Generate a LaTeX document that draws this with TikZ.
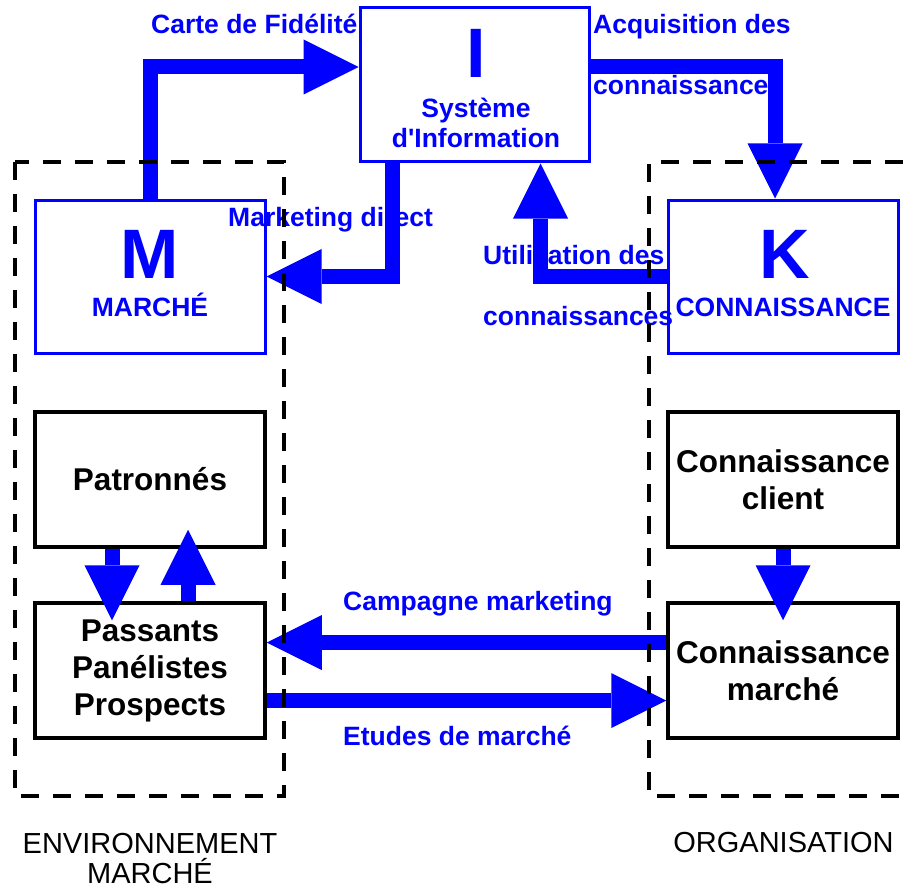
\documentclass[tikz,border=0pt]{standalone}
\usepackage{fontspec}
\setmainfont{Liberation Sans}
\usetikzlibrary{arrows.meta,calc}

\definecolor{flowblue}{RGB}{0,0,255}

\tikzset{
  bluebox/.style={draw=flowblue, line width=3pt, minimum width=230pt, minimum height=153pt, inner sep=0pt},
  blackbox/.style={draw=black, line width=3.5pt, minimum width=230pt, minimum height=135pt, inner sep=0pt, align=center, font=\fontsize{31.5}{37}\selectfont\bfseries},
  flow/.style={draw=flowblue, line width=15pt, -{Triangle[length=55pt,width=55pt,line width=0pt]}},
  flowlabel/.style={text=flowblue, inner sep=0pt, font=\fontsize{26.5}{31}\selectfont\bfseries},
  bigletter/.style={text=flowblue, inner sep=0pt, font=\fontsize{70}{70}\selectfont\bfseries},
  grouplabel/.style={inner sep=0pt, font=\fontsize{29}{30}\selectfont},
  groupline/.style={draw=black, line width=4pt, dash pattern=on 18pt off 14pt}
}

\begin{document}
\begin{tikzpicture}[x=1pt,y=1pt,yscale=-1]
\useasboundingbox (0,0) rectangle (913,888);

% blue boxes
\node[bluebox, minimum width=229pt, minimum height=154pt] (info) at (474.5,85) {};
\node[bluebox] (mkt) at (150,276.5) {};
\node[bluebox] (kno) at (783,276.5) {};

\node[bigletter, anchor=base] (infoI) at (476,78) {I};
\node[flowlabel, anchor=base] (infoA) at (476,118) {Système};
\node[flowlabel, anchor=base] (infoB) at (476,148) {d\textquotesingle Information};
\node[bigletter, anchor=base] (mktM) at (150,278) {M};
\node[flowlabel, anchor=base] (mktA) at (150,316) {MARCHÉ};
\node[bigletter, anchor=base] (knoK) at (785,278) {K};
\node[flowlabel, anchor=base] (knoA) at (783,316) {CONNAISSANCE};

% black boxes
\node[blackbox] (pat) at (150,479.5) {Patronnés};
\node[blackbox] (pas) at (150,670.5) {Passants\\Panélistes\\Prospects};
\node[blackbox] (cli) at (783,479.5) {Connaissance\\client};
\node[blackbox] (mar) at (783,670.5) {Connaissance\\marché};

% flow labels
\node[flowlabel, anchor=base west] (l1) at (151,34) {Carte de Fidélité};
\node[flowlabel, anchor=base west] (l2) at (593,34) {Acquisition des};
\node[flowlabel, anchor=base west] (l3) at (593,95) {connaissances};
\node[flowlabel, anchor=base west] (l4) at (228,226) {Marketing direct};
\node[flowlabel, anchor=base west] (l5) at (483,264) {Utilisation des};
\node[flowlabel, anchor=base west] (l6) at (483,325) {connaissances};
\node[flowlabel, anchor=base west] (l7) at (343,610) {Campagne marketing};
\node[flowlabel, anchor=base west] (l8) at (343,745) {Etudes de marché};

% flows
\draw[flow] (mkt.north) |- ($(info.west)+(0,-18)$);
\draw[flow] ($(info.east)+(0,-18)$) -| ($(kno.north)+(-8,0)$);
\draw[flow] ($(info.south)+(-82,0)$) |- (mkt.east);
\draw[flow] (kno.west) -| ($(info.south)+(66,0)$);
\draw[flow] ($(pat.south)+(-38,0)$) -- ($(pas.north)+(-38,19)$);
\draw[flow] ($(pas.north)+(38,0)$) -- ($(pat.south)+(38,-19)$);
\draw[flow] (cli.south) -- ($(mar.north)+(0,19)$);
\draw[flow] ($(mar.west)+(0,-28)$) -- ($(pas.east)+(0,-28)$);
\draw[flow] ($(pas.east)+(0,30)$) -- ($(mar.west)+(0,30)$);

% groups
\draw[groupline] (15,162) rectangle (284,796);
\draw[groupline] (935,162) -| (649,796) -- (935,796);
\node[grouplabel, anchor=base] (env1) at (150,853) {ENVIRONNEMENT};
\node[grouplabel, anchor=base] (env2) at (150,883) {MARCHÉ};
\node[grouplabel, anchor=base] (org) at (783.5,852) {ORGANISATION};

\end{tikzpicture}
\end{document}
